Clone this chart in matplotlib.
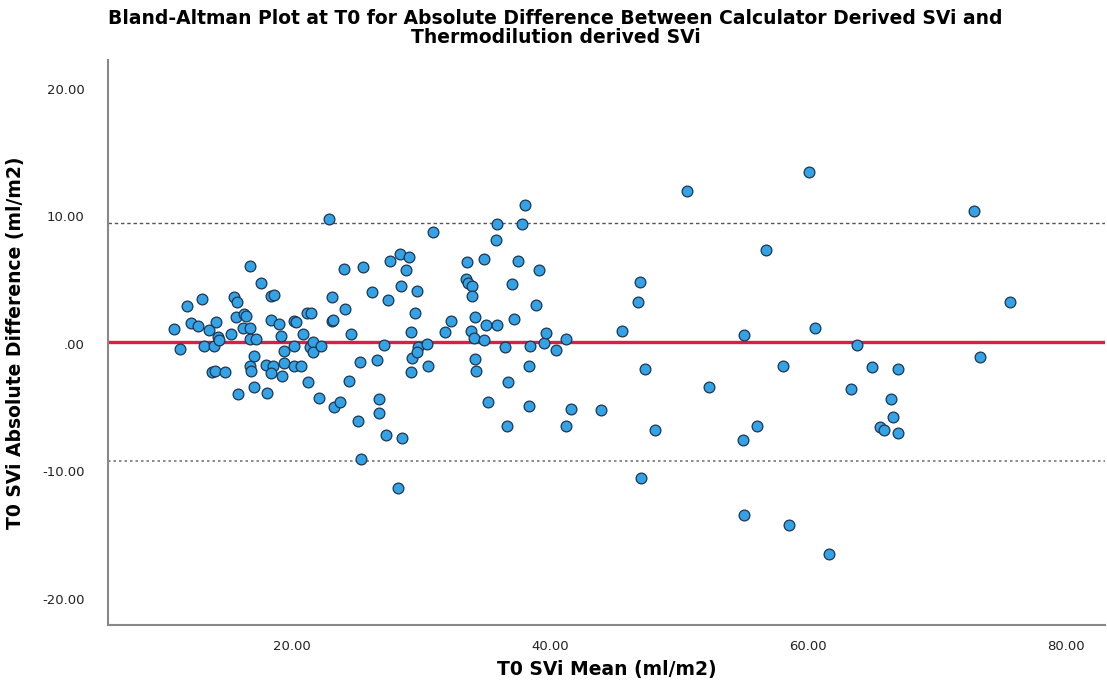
import matplotlib
matplotlib.use("Agg")
import matplotlib.pyplot as plt
from matplotlib.ticker import FuncFormatter

# T0 SVi mean (ml/m2)
svi_mean = [10.85, 11.32, 11.84, 12.17, 12.71, 13.06, 13.20, 13.59, 13.80, 14.05,
            13.99, 14.12, 14.26, 14.38, 14.81, 15.27, 15.50, 15.72, 15.66, 15.85,
            16.18, 16.30, 16.43, 16.71, 16.74, 16.71, 17.19, 16.74, 16.86, 17.02,
            17.07, 17.62, 17.97, 18.06, 18.37, 18.64, 18.37, 18.53, 18.41, 19.02,
            19.15, 19.19, 19.38, 19.40, 20.12, 20.18, 20.27, 20.18, 20.70, 20.88,
            21.14, 21.45, 21.20, 21.36, 21.65, 21.65, 22.21, 22.12, 22.89, 23.08,
            23.08, 23.18, 23.28, 23.72, 23.99, 24.12, 24.43, 24.55, 25.09, 25.35,
            25.27, 25.53, 26.20, 26.55, 26.77, 26.77, 27.09, 27.29, 27.40, 27.60,
            28.33, 29.09, 28.86, 28.43, 29.67, 29.56, 28.50, 28.19, 29.21, 29.79,
            30.44, 29.28, 29.71, 29.22, 30.57, 30.91, 31.86, 32.33, 33.54, 33.49,
            33.62, 33.93, 33.93, 33.88, 34.11, 34.19, 34.21, 34.25, 34.88, 34.91,
            35.06, 35.85, 35.22, 35.78, 35.89, 36.51, 36.64, 36.77, 37.07, 37.23,
            37.50, 37.85, 38.04, 38.40, 38.40, 38.45, 38.91, 39.16, 39.50, 39.69,
            40.49, 41.26, 41.24, 41.60, 43.95, 45.58, 46.80, 46.98, 47.05, 47.39,
            48.09, 50.60, 52.35, 54.94, 55.06, 55.06, 56.05, 56.72, 58.04, 58.55,
            60.10, 60.49, 61.65, 63.33, 63.78, 64.94, 65.53, 65.89, 66.41, 66.61,
            66.95, 66.95, 72.81, 73.33, 75.60]

# T0 SVi absolute difference (ml/m2)
svi_diff = [1.13, -0.44, 2.99, 1.65, 1.42, 3.51, -0.17, 1.11, -2.24, -2.12,
            -0.16, 1.68, 0.53, 0.33, -2.22, 0.77, 3.67, 3.24, 2.12, -3.97,
            1.26, 2.31, 2.20, 1.20, 6.10, 0.40, 0.41, -1.75, -2.10, -3.43,
            -0.94, 4.74, -1.63, -3.84, 3.71, 3.83, 1.85, -1.75, -2.26, 1.53,
            0.58, -2.55, -1.53, -0.57, -1.75, 1.76, 1.73, -0.16, -1.75, 0.74,
            2.39, 2.45, -3.03, -0.22, 0.11, -0.65, -0.15, -4.24, 9.77, 3.65,
            1.80, 1.85, -5.00, -4.60, 5.87, 2.71, -2.90, 0.80, -6.06, -9.05,
            -1.46, 5.99, 4.10, -1.31, -4.36, -5.46, -0.07, -7.16, 3.43, 6.46,
            7.02, 6.81, 5.79, 4.56, 4.14, 2.45, -7.42, -11.30, 0.92, -0.22,
            0.00, -1.10, -0.65, -2.24, -1.76, 8.80, 0.95, 1.80, 6.42, 5.07,
            4.74, 4.53, 3.75, 1.04, 0.47, 2.10, -1.20, -2.10, 6.65, 0.33,
            1.47, 1.47, -4.59, 8.14, 9.42, -0.23, -6.43, -2.98, 4.67, 1.92,
            6.50, 9.38, 10.89, -1.75, -4.89, -0.20, 3.08, 5.79, 0.04, 0.88,
            -0.49, 0.37, -6.46, -5.10, -5.20, 1.00, 3.25, 4.82, -10.56, -1.98,
            -6.77, 11.99, -3.37, -7.55, 0.71, -13.47, -6.43, 7.36, -1.72, -14.23,
            13.48, 1.26, -16.53, -3.58, -0.07, -1.85, -6.56, -6.77, -4.34, -5.73,
            -1.98, -7.03, 10.42, -1.02, 3.30]

mean_diff = 0.14
upper_loa = 9.48
lower_loa = -9.20

x_ticks = [20, 40, 60, 80]
y_ticks = [-20, -10, 0, 10, 20]

title = ("Bland-Altman Plot at T0 for Absolute Difference Between Calculator Derived SVi and\n"
         "Thermodilution derived SVi")
x_label = "T0 SVi Mean (ml/m2)"
y_label = "T0 SVi Absolute Difference (ml/m2)"

plt.rcParams['font.family'] = ['DejaVu Sans']

fig = plt.figure(figsize=(11.07, 6.9), dpi=100)
ax = fig.add_axes([108/1107, 1-625/690, (1105-108)/1107, (625-60)/690])

ax.axhline(upper_loa, color='#555555', lw=1.0, ls=(0, (2.5, 2.0)), zorder=1)
ax.axhline(lower_loa, color='#777777', lw=1.2, ls=(0, (1.5, 1.8)), zorder=1)
ax.axhline(mean_diff, color='#D81F45', lw=2.4, zorder=2)

ax.scatter(svi_mean, svi_diff, s=60, facecolor='#33A3E6', edgecolor='#1E3550',
           linewidth=0.9, zorder=3)

ax.set_xlim(5.74, 83.0)
ax.set_ylim(-22.07, 22.27)
ax.set_xticks(x_ticks)
ax.set_yticks(y_ticks)

def fmt(v, pos):
    s = f"{v:.2f}"
    if s.startswith("0."):
        s = s[1:]
    if s == "-0.00":
        s = ".00"
    return s

ax.xaxis.set_major_formatter(FuncFormatter(fmt))
ax.yaxis.set_major_formatter(FuncFormatter(fmt))
ax.tick_params(axis='both', length=0, labelsize=9.5, colors='#222222')
ax.tick_params(axis='y', pad=17)
ax.tick_params(axis='x', pad=11)

for side in ['top', 'right']:
    ax.spines[side].set_visible(False)
for side in ['left', 'bottom']:
    ax.spines[side].set_color('#888888')
    ax.spines[side].set_linewidth(1.5)

ax.set_xlabel(x_label, fontsize=13.5, fontweight='bold', labelpad=5)
ax.set_ylabel(y_label, fontsize=13.5, fontweight='bold', labelpad=12)
fig.text(0.502, 0.987, title, ha='center', va='top', fontsize=13.5,
         fontweight='bold', linespacing=1.0)

fig.savefig("out.png", dpi=100)
